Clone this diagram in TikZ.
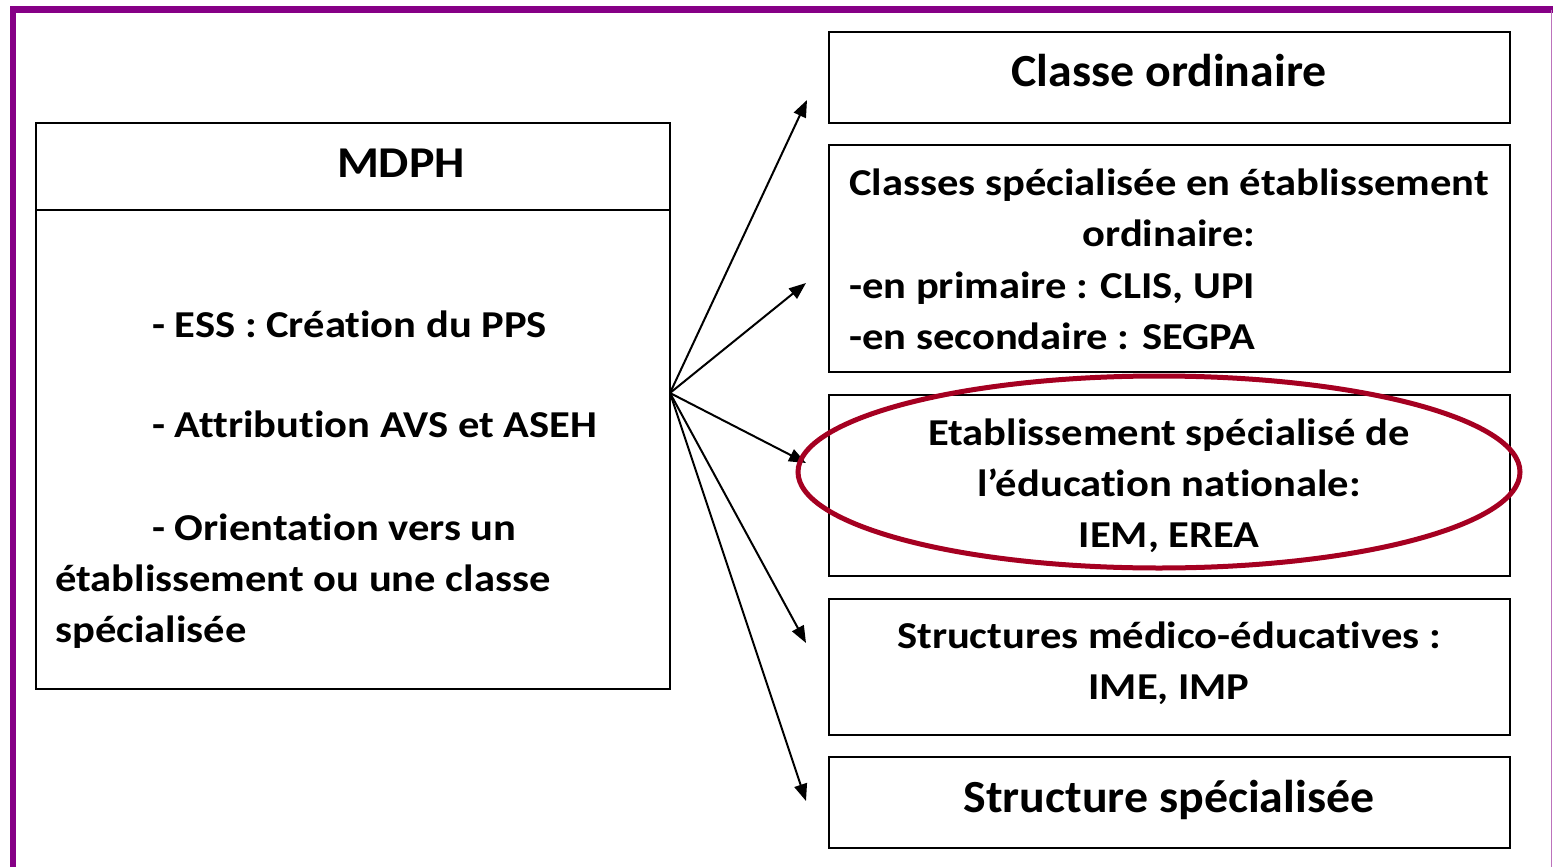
\documentclass[tikz,border=0pt]{standalone}
\usepackage{fontspec}
\setmainfont{Carlito}[Ligatures=NoCommon]
\newfontfamily\bodyfont{Carlito}[FakeStretch=1.12,Ligatures=NoCommon]
\newfontfamily\bigfont{Carlito}[FakeStretch=1.04,Ligatures=NoCommon]
\newfontfamily\headfont{Carlito}[FakeStretch=1.09,Ligatures=NoCommon]
\usetikzlibrary{arrows.meta,shapes.geometric}

\definecolor{framepurple}{RGB}{134,0,134}
\definecolor{markred}{RGB}{165,0,33}

\tikzset{
  box/.style={draw, line width=2pt, anchor=north west, inner sep=0pt, outer sep=0pt},
  rbox/.style={box, minimum width=681pt},
  link/.style={line width=2pt, -{Triangle[length=17pt,width=13pt]}},
  ltxt/.style={inner sep=0pt, anchor=base west, font=\bodyfont\fontsize{38}{51}\selectfont\bfseries},
  rtxt/.style={inner sep=0pt, anchor=base, font=\bodyfont\fontsize{38}{51}\selectfont\bfseries},
  rtxtl/.style={rtxt, anchor=base west},
  bigtxt/.style={inner sep=0pt, anchor=base, font=\bigfont\fontsize{46}{55}\selectfont\bfseries},
}

\begin{document}
\begin{tikzpicture}[x=1pt,y=-1pt]
\useasboundingbox (0,0) rectangle (1553,867);

% outer frame
\draw[framepurple, line width=6.5pt] (13,880) -- (13,9.75) -- (1560,9.75);
\draw[framepurple!55, line width=1.5pt] (1551.5,9.75) -- (1551.5,880);

% left block
\node[box, minimum width=634pt, minimum height=566pt] (mdph) at (36,123) {};
\node[box, minimum width=634pt, minimum height=87pt] (mdphhead) at (36,123) {};
\node[inner sep=0pt, anchor=base, font=\headfont\fontsize{44}{52}\selectfont\bfseries] (mdphtitle) at (401,177) {MDPH};
\node[ltxt] (l1) at (152,337) {- ESS : Création du PPS};
\node[ltxt] (l2) at (152,437) {- Attribution AVS et ASEH};
\node[ltxt] (l3) at (152,540) {- Orientation vers un};
\node[ltxt] (l4) at (55,591) {établissement ou une classe};
\node[ltxt] (l5) at (55,642) {spécialisée};

% right column
\node[rbox, minimum height=91pt] (b1) at (829,32) {};
\node[rbox, minimum height=227pt] (b2) at (829,145) {};
\node[rbox, minimum height=181pt] (b3) at (829,395) {};
\node[rbox, minimum height=136pt] (b4) at (829,599) {};
\node[rbox, minimum height=91pt] (b5) at (829,757) {};

\node[bigtxt] (t1) at (1169,87) {Classe ordinaire};

\node[rtxt] (t2a) at (1169,195) {Classes spécialisée en établissement};
\node[rtxt] (t2b) at (1169,246) {ordinaire:};
\node[rtxtl] (t2c) at (849,298) {-en primaire : CLIS, UPI};
\node[rtxtl] (t2d) at (849,349) {-en secondaire : SEGPA};

\node[rtxt] (t3a) at (1169,445) {Etablissement spécialisé de};
\node[rtxt] (t3b) at (1169,496) {l’éducation nationale:};
\node[rtxt] (t3c) at (1169,547) {IEM, EREA};

\node[rtxt] (t4a) at (1169,648) {Structures médico-éducatives :};
\node[rtxt] (t4b) at (1169,699) {IME, IMP};

\node[bigtxt] (t5) at (1169,812) {Structure spécialisée};

% connectors
\coordinate (src) at (670,393);
\coordinate (e1) at (807,100);
\coordinate (e2) at (806,283);
\coordinate (e3) at (806,463);
\coordinate (e4) at (806,643);
\coordinate (e5) at (806,801);
\foreach \t in {e1,e2,e3,e4,e5}
  \draw[link] (src) -- (\t);

% highlight
\node[draw=markred, line width=5pt, ellipse, inner sep=0pt,
      minimum width=722pt, minimum height=192pt] (hl) at (1159,472) {};
\end{tikzpicture}
\end{document}
